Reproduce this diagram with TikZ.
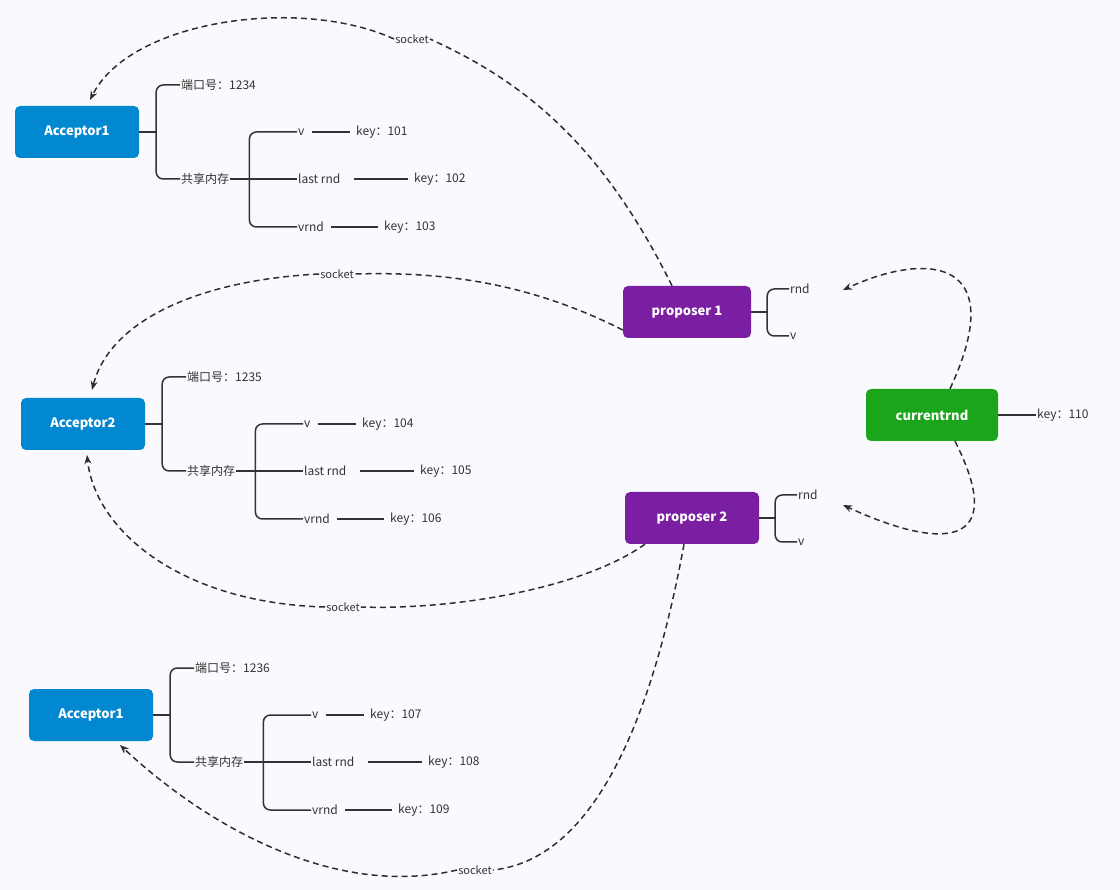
\documentclass[tikz,border=0pt]{standalone}
\usepackage{fontspec}
\setmainfont{Noto Sans CJK SC}
\usetikzlibrary{arrows.meta}
\definecolor{bg}{HTML}{FAFAFE}
\definecolor{accblue}{HTML}{0288D1}
\definecolor{proppurple}{HTML}{7B1FA2}
\definecolor{curgreen}{HTML}{1AA51A}
\definecolor{ink}{HTML}{333333}
\newcommand\accblock[8]{%
\begin{scope}[shift={(#3,#4)}]
\node[box,fill=accblue,minimum width=124pt] (#1) at (0,0) {#2};
\node[lbl] (#1p) at (103,-47) {端口号：#5};
\node[lbl] (#1m) at (103,47) {共享内存};
\node[lbl] (#1v) at (220,0) {v};
\node[lbl] (#1l) at (220,47) {last rnd};
\node[lbl] (#1r) at (220,95) {vrnd};
\node[lbl] (#1kv) at (278,0) {key：#6};
\node[lbl] (#1kl) at (336,47) {key：#7};
\node[lbl] (#1kr) at (306,95) {key：#8};
\draw[tree] (#1.east) -- ++(17,0) coordinate (#1t);
\draw[tree] (#1p.west) -| (#1t) |- (#1m.west);
\draw[tree] (#1m.east) -- ++(19,0) coordinate (#1s);
\draw[tree] (#1v.west) -| (#1s) |- (#1r.west);
\draw[tree] (#1s) -- (#1l.west);
\draw[tree] ([xshift=6pt]#1v.east) -- ([xshift=-5pt]#1kv.west);
\draw[tree] ([xshift=12pt]#1l.east) -- ([xshift=-5pt]#1kl.west);
\draw[tree] ([xshift=6pt]#1r.east) -- ([xshift=-5pt]#1kr.west);
\end{scope}}
\begin{document}
\begin{tikzpicture}[x=1pt,y=-1pt,
  box/.style={rounded corners=5pt,text=white,font=\bfseries\fontsize{13}{15}\selectfont,minimum height=52pt,inner sep=0pt},
  lbl/.style={anchor=west,text=ink,font=\fontsize{12}{14}\selectfont,inner sep=1pt},
  tree/.style={draw=ink,line width=1.5pt,rounded corners=7pt},
  sockarrow/.style={draw=ink!90!black,line width=1.5pt,dash pattern=on 6pt off 4pt,-{Stealth[length=9pt,width=7pt]}},
  sockline/.style={draw=ink!90!black,line width=1.5pt,dash pattern=on 6pt off 4pt},
  sock/.style={fill=bg,text=ink,font=\fontsize{11}{13}\selectfont,inner sep=1pt}]
\fill[bg] (0,0) rectangle (1120,890);
\useasboundingbox (0,0) rectangle (1120,890);
\accblock{a}{Acceptor1}{77}{132}{1234}{101}{102}{103}
\accblock{b}{Acceptor2}{83}{424}{1235}{104}{105}{106}
\accblock{c}{Acceptor1}{91}{715}{1236}{107}{108}{109}
% proposers
\node[box,fill=proppurple,minimum width=128pt] (p1) at (687,312) {proposer 1};
\node[lbl] (p1r) at (789,289) {rnd};
\node[lbl] (p1v) at (789,336) {v};
\draw[tree] (p1.east) -- ++(16,0) coordinate (p1t);
\draw[tree] (p1r.west) -| (p1t) |- (p1v.west);
\node[box,fill=proppurple,minimum width=134pt] (p2) at (692,518) {proposer 2};
\node[lbl] (p2r) at (797,495) {rnd};
\node[lbl] (p2v) at (797,542) {v};
\draw[tree] (p2.east) -- ++(16,0) coordinate (p2t);
\draw[tree] (p2r.west) -| (p2t) |- (p2v.west);
\node[box,fill=curgreen,minimum width=132pt] (cr) at (932,415) {currentrnd};
\node[lbl] (crk) at (1036,415) {key：110};
\draw[tree] (cr.east) -- (crk.west);
% socket labels
\node[sock] (s1) at (412,39) {socket};
\node[sock] (s2) at (337,274) {socket};
\node[sock] (s3) at (343,607) {socket};
\node[sock] (s4) at (475,870) {socket};
\coordinate (t1) at (90,100);
\coordinate (t2) at (92,390);
\coordinate (t3) at (87,455);
\coordinate (t4) at (120,745);
\coordinate (tr1) at (843,290);
\coordinate (tr2) at (843,505);
\draw[sockline] ([xshift=-15pt]p1.north) .. controls (600,140) and (520,80) .. (s1.east);
\draw[sockarrow] (s1.west) .. controls (300,-4) and (130,20) .. (t1);
\draw[sockline] ([yshift=-18pt]p1.west) .. controls (520,278) and (430,272) .. (s2.east);
\draw[sockarrow] (s2.west) .. controls (200,280) and (110,320) .. (t2);
\draw[sockline] ([xshift=-47pt]p2.south) .. controls (580,590) and (450,610) .. (s3.east);
\draw[sockarrow] (s3.west) .. controls (180,603) and (95,530) .. (t3);
\draw[sockline] ([xshift=-8pt]p2.south) .. controls (650,730) and (590,860) .. (s4.east);
\draw[sockarrow] (s4.west) .. controls (330,900) and (200,820) .. (t4);
\draw[sockarrow] ([xshift=18pt]cr.north) .. controls (1010,260) and (930,250) .. (tr1);
\draw[sockarrow] ([xshift=23pt]cr.south) .. controls (1010,550) and (940,550) .. (tr2);
\end{tikzpicture}
\end{document}
